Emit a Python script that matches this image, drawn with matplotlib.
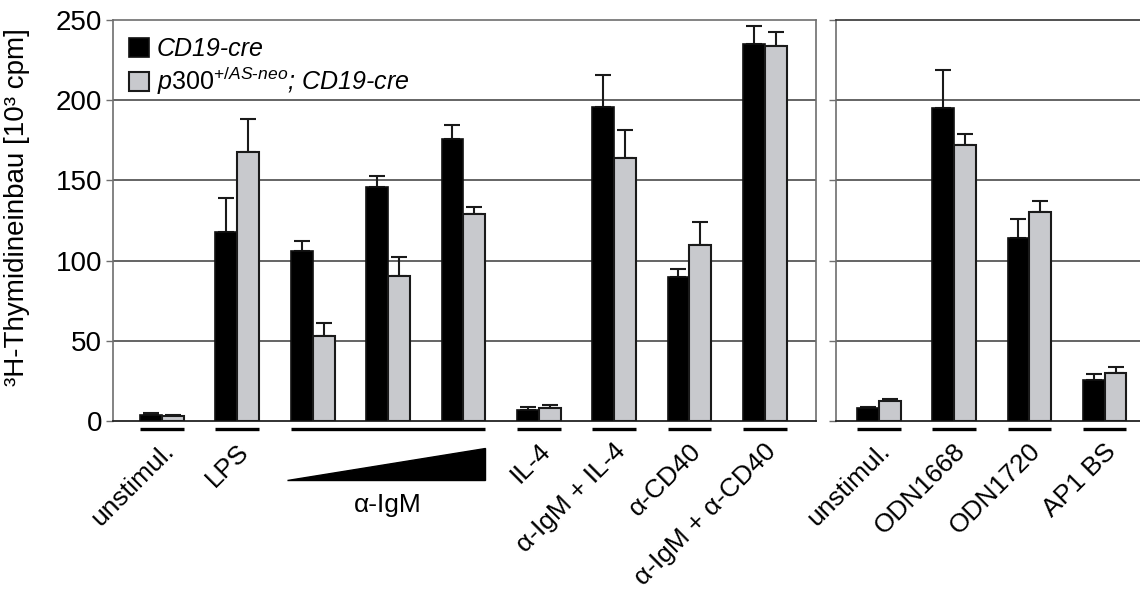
import matplotlib
matplotlib.use("Agg")
import matplotlib.pyplot as plt
from matplotlib.patches import Patch, Polygon
import numpy as np

plt.rcParams['font.family'] = ['Liberation Sans', 'DejaVu Sans']
plt.rcParams['mathtext.fontset'] = 'custom'
plt.rcParams['mathtext.rm'] = 'Liberation Sans'
plt.rcParams['mathtext.it'] = 'Liberation Sans:italic'
plt.rcParams['mathtext.default'] = 'it'

# ---- data ----
left_cats = ['unstimul.', 'LPS', '', '', '', 'IL-4', 'α-IgM + IL-4', 'α-CD40', 'α-IgM + α-CD40']
cre_left = [3.5, 118, 106, 146, 176, 7, 196, 90, 235]
cre_left_err = [1.5, 21, 6, 7, 8.5, 2, 19.5, 5, 11.5]
p300_left = [3, 167.5, 53, 90.5, 129, 8, 164, 109.5, 233.5]
p300_left_err = [1, 21, 8, 11.5, 4.5, 2, 17.5, 14.5, 9]

right_cats = ['unstimul.', 'ODN1668', 'ODN1720', 'AP1 BS']
cre_right = [8, 195, 114, 25.5]
cre_right_err = [1, 24, 12, 3.5]
p300_right = [12.5, 172, 130, 30]
p300_right_err = [1.5, 7, 7, 3.5]

series_names = ['CD19-cre', r'$\mathit{p300}^{\mathit{+/AS\text{-}neo}}$; CD19-cre']
igm_label = 'α-IgM'
yticks = [0, 50, 100, 150, 200, 250]
ylabel = '³H-Thymidineinbau [10³ cpm]'

BLACK = '#000000'
GRAY = '#c8c9cd'
GRID = '#3a3a3a'
SPINE = '#6e6e6e'
W = 0.29

fig = plt.figure(figsize=(11.4, 5.94), dpi=100)
axL = fig.add_axes([113/1140, 1-421/594, 703/1140, 401/594])
axR = fig.add_axes([836/1140, 1-421/594, 304/1140, 401/594])


def draw(ax, cats, cre, cre_e, p3, p3_e, xlim):
    x = np.arange(len(cats))
    ax.bar(x - W/2, cre, W, color=BLACK, edgecolor='#111111', linewidth=1.2, zorder=3)
    ax.bar(x + W/2, p3, W, color=GRAY, edgecolor='#1a1a1a', linewidth=1.5, zorder=3)
    ax.errorbar(x - W/2, cre, yerr=[np.zeros(len(cre)), cre_e], fmt='none',
                ecolor='#1a1a1a', elinewidth=1.5, capsize=6, capthick=1.5, zorder=2)
    ax.errorbar(x + W/2, p3, yerr=[np.zeros(len(p3)), p3_e], fmt='none',
                ecolor='#1a1a1a', elinewidth=1.5, capsize=6, capthick=1.5, zorder=2)
    ax.set_xlim(*xlim)
    ax.set_ylim(0, 250)
    ax.set_yticks(yticks)
    ax.set_xticks([])
    for yv in yticks[1:-1]:
        ax.axhline(yv, color=GRID, linewidth=1.1, zorder=1)
    tr = ax.get_xaxis_transform()
    for i, c in enumerate(cats):
        if c:
            ax.plot([i - W, i + W], [-0.02, -0.02], color='black', linewidth=2.4,
                    transform=tr, clip_on=False, solid_capstyle='butt')
            ax.text(i - 0.01, -0.045, c, transform=tr, rotation=45, ha='right', va='top',
                    rotation_mode='anchor', fontsize=19)
    ax.tick_params(axis='y', direction='out', length=5, width=1, color=SPINE)
    for s in ['left', 'top', 'right']:
        ax.spines[s].set_color(SPINE)
        ax.spines[s].set_linewidth(1.2)
    ax.spines['bottom'].set_color('#222222')
    ax.spines['bottom'].set_linewidth(1.3)


draw(axL, left_cats, cre_left, cre_left_err, p300_left, p300_left_err, (-0.65, 8.68))
draw(axR, right_cats, cre_right, cre_right_err, p300_right, p300_right_err, (-0.57, 3.47))

axL.tick_params(axis='y', labelsize=20, pad=3)
axR.tick_params(axis='y', labelleft=False)
axR.spines['right'].set_visible(False)
axR.spines['top'].set_color('#333333')

# alpha-IgM group: underline, wedge and label
trL = axL.get_xaxis_transform()
axL.plot([2 - W, 4 + W], [-0.02, -0.02], color='black', linewidth=2.4,
         transform=trL, clip_on=False, solid_capstyle='butt')
wedge = Polygon([[2 - W - 0.05, -0.147], [4 + W, -0.147], [4 + W, -0.067]], closed=True,
                facecolor='black', edgecolor='black', transform=trL, clip_on=False)
axL.add_patch(wedge)
axL.text(3, -0.21, igm_label, transform=trL, ha='center', va='center', fontsize=19)

axL.set_ylabel(ylabel, fontsize=20)
axL.yaxis.set_label_coords(-0.118, 0.534)

handles = [Patch(facecolor=BLACK, edgecolor='#111111', linewidth=1.2),
           Patch(facecolor=GRAY, edgecolor='#1a1a1a', linewidth=1.5)]
leg = axL.legend(handles, series_names, loc='upper left', bbox_to_anchor=(0.002, 0.995),
                 frameon=False, fontsize=18, handlelength=0.8, handleheight=0.8,
                 handletextpad=0.3, labelspacing=0.15, borderaxespad=0.2)
for t in leg.get_texts():
    t.set_fontstyle('italic')

fig.savefig('out.png', dpi=100)
